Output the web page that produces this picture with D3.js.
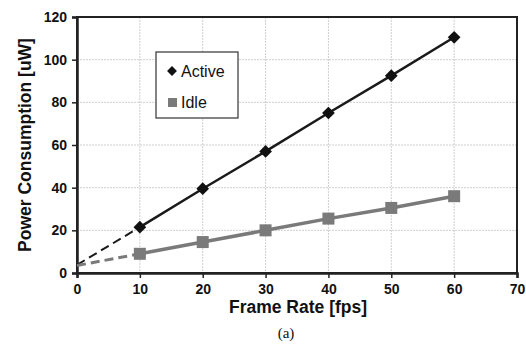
<!DOCTYPE html>
<html>
<head>
<meta charset="utf-8">
<script src="https://cdn.jsdelivr.net/npm/d3@7"></script>
<style>
body { margin: 0; background: #fff; }
text { font-family: "Liberation Sans", Arial, sans-serif; }
</style>
</head>
<body>
<script>
// chart data
var frameRates = [10, 20, 30, 40, 50, 60];
var activePower = [21.5, 39.5, 57, 75, 92.5, 110.5];
var idlePower = [9, 14.5, 20, 25.5, 30.5, 36];
var extrapStart = [3.8, 3.5]; // value at 0 fps (dashed part) for active, idle
var xTicks = [0, 10, 20, 30, 40, 50, 60, 70];
var yTicks = [0, 20, 40, 60, 80, 100, 120];

var w = 526, h = 344;
var pLeft = 77, pRight = 517, pTop = 17, pBottom = 273;

var svg = d3.select("body").append("svg")
    .attr("width", w)
    .attr("height", h);

var x = d3.scaleLinear().domain([0, 70]).range([pLeft, pRight]);
var y = d3.scaleLinear().domain([0, 120]).range([pBottom, pTop]);

//grid lines
svg.append("g").selectAll("line")
    .data(xTicks.slice(1, -1))
    .enter().append("line")
    .attr("x1", function(d){ return x(d); })
    .attr("x2", function(d){ return x(d); })
    .attr("y1", pTop).attr("y2", pBottom)
    .style("stroke", "#cfcfcf")
    .style("stroke-dasharray", "2,1");

svg.append("g").selectAll("line")
    .data(yTicks.slice(1, -1))
    .enter().append("line")
    .attr("y1", function(d){ return y(d); })
    .attr("y2", function(d){ return y(d); })
    .attr("x1", pLeft).attr("x2", pRight)
    .style("stroke", "#cfcfcf")
    .style("stroke-dasharray", "2,1");

//frame
svg.append("rect")
    .attr("x", pLeft).attr("y", pTop)
    .attr("width", pRight - pLeft).attr("height", pBottom - pTop)
    .style("fill", "none")
    .style("stroke", "#222")
    .style("stroke-width", 2);

//axes
var xAxis = svg.append("g")
    .attr("transform", "translate(0," + pBottom + ")")
    .call(d3.axisBottom(x).tickValues(xTicks).tickSize(5).tickPadding(6));
var yAxis = svg.append("g")
    .attr("transform", "translate(" + pLeft + ",0)")
    .call(d3.axisLeft(y).tickValues(yTicks).tickSize(5).tickPadding(5));

[xAxis, yAxis].forEach(function(a){
    a.select(".domain").style("stroke", "#222").style("stroke-width", 2.5);
    a.selectAll(".tick line").style("stroke", "#222").style("stroke-width", 1.5);
    a.selectAll("text")
        .style("font-family", "'Liberation Sans', Arial, sans-serif")
        .style("font-size", "14px")
        .style("font-weight", "bold")
        .style("fill", "#111");
});

var line = d3.line()
    .x(function(d){ return x(d[0]); })
    .y(function(d){ return y(d[1]); });

var series = [
    {name: "Active", values: activePower, start: extrapStart[0], color: "#1a1a1a", width: 2.5},
    {name: "Idle", values: idlePower, start: extrapStart[1], color: "#7a7a7a", width: 3.5}
];

series.forEach(function(s){
    var pts = frameRates.map(function(f, i){ return [f, s.values[i]]; });
    // dashed extrapolation to origin
    svg.append("path")
        .datum([[0, s.start], pts[0]])
        .attr("d", line)
        .style("fill", "none")
        .style("stroke", s.color)
        .style("stroke-width", s.width - 0.5)
        .style("stroke-dasharray", "9,5");
    svg.append("path")
        .datum(pts)
        .attr("d", line)
        .style("fill", "none")
        .style("stroke", s.color)
        .style("stroke-width", s.width);
});

// markers: diamonds are squares turned 45 degrees
svg.append("g").selectAll("rect")
    .data(frameRates)
    .enter().append("rect")
    .attr("x", -4.5).attr("y", -4.5)
    .attr("width", 9).attr("height", 9)
    .attr("transform", function(d, i){ return "translate(" + x(d) + "," + y(activePower[i]) + ") rotate(45)"; })
    .style("fill", "#111");

svg.append("g").selectAll("rect")
    .data(frameRates)
    .enter().append("rect")
    .attr("x", function(d){ return x(d) - 6; })
    .attr("y", function(d, i){ return y(idlePower[i]) - 6; })
    .attr("width", 12).attr("height", 12)
    .style("fill", "#7a7a7a");

// legend
var lg = svg.append("g");
lg.append("rect")
    .attr("x", 156).attr("y", 52)
    .attr("width", 82).attr("height", 66)
    .style("fill", "#fff")
    .style("stroke", "#333")
    .style("stroke-width", 1.2);
lg.append("rect")
    .attr("x", -3.5).attr("y", -3.5).attr("width", 7).attr("height", 7)
    .attr("transform", "translate(172,71) rotate(45)")
    .style("fill", "#111");
lg.append("rect")
    .attr("x", 168).attr("y", 98).attr("width", 9).attr("height", 9)
    .style("fill", "#7a7a7a");
lg.append("text").attr("x", 181).attr("y", 77).text("Active")
    .style("font-size", "16px").style("fill", "#111");
lg.append("text").attr("x", 181).attr("y", 108).text("Idle")
    .style("font-size", "16px").style("fill", "#111");

// axis titles
svg.append("text")
    .attr("x", 298).attr("y", 313)
    .attr("text-anchor", "middle")
    .style("font-size", "17.5px").style("font-weight", "bold").style("fill", "#111")
    .text("Frame Rate [fps]");

svg.append("text")
    .attr("transform", "translate(31,145) rotate(-90)")
    .attr("text-anchor", "middle")
    .style("font-size", "17.5px").style("font-weight", "bold").style("fill", "#111")
    .text("Power Consumption [uW]");

svg.append("text")
    .attr("x", 286).attr("y", 338)
    .attr("text-anchor", "middle")
    .style("font-family", "'Liberation Serif', 'Times New Roman', serif")
    .style("font-size", "15px").style("fill", "#111")
    .text("(a)");
</script>
</body>
</html>
